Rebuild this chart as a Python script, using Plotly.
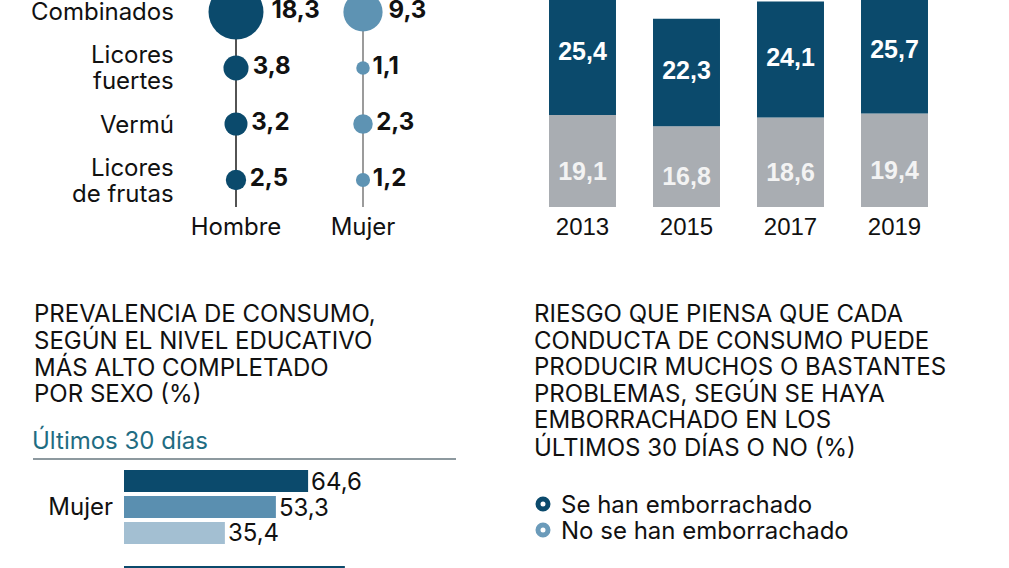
import plotly.graph_objects as go

W, H = 1009, 568


def px_x(p):
    return p / W


def px_y(p):
    return 1 - p / H


def fmt(v):
    return f"{v:.1f}".replace('.', ',')


# ---------------- DATA ----------------
# Bubble chart: consumption by drink type and sex (%)
drink_categories = ['Combinados', 'Licores fuertes', 'Vermú', 'Licores de frutas']
drink_label_lines = [['Combinados'], ['Licores', 'fuertes'], ['Vermú'], ['Licores', 'de frutas']]
sexes = ['Hombre', 'Mujer']
hombre_vals = [18.3, 3.8, 3.2, 2.5]
mujer_vals = [9.3, 1.1, 2.3, 1.2]

# Stacked bars by year
years = ['2013', '2015', '2017', '2019']
gray_vals = [19.1, 16.8, 18.6, 19.4]
dark_vals = [25.4, 22.3, 24.1, 25.7]

# Horizontal bars: prevalence by education level (last 30 days)
edu_sex = ['Mujer', 'Hombre']
edu_level_names = ['Estudios superiores', 'Estudios secundarios', 'Estudios primarios']
edu_level1 = [64.6, 77.5]
edu_level2 = [53.3, None]
edu_level3 = [35.4, None]

# Texts
title_left = ['PREVALENCIA DE CONSUMO,', 'SEGÚN EL NIVEL EDUCATIVO',
              'MÁS ALTO COMPLETADO', 'POR SEXO (%)']
subtitle_left = 'Últimos 30 días'
title_right = ['RIESGO QUE PIENSA QUE CADA', 'CONDUCTA DE CONSUMO PUEDE',
               'PRODUCIR MUCHOS O BASTANTES', 'PROBLEMAS, SEGÚN SE HAYA',
               'EMBORRACHADO EN LOS', 'ÚLTIMOS 30 DÍAS O NO (%)']
legend_names = ['Se han emborrachado', 'No se han emborrachado']

# ---------------- STYLE ----------------
DARK = '#0b4a6c'
MID = '#5e93b3'
LIGHT_RING = '#6b9bba'
GRAY = '#a9adb2'
EDU_COLORS = ['#0b4a6c', '#5a8fb0', '#a3bfd2']
TEAL = '#1f6c82'
TXT = '#111111'
FR = 'Inter'
HV = 'Liberation Sans'

fig = go.Figure()

# Bubble chart
SIZEREF = 2 * max(hombre_vals + mujer_vals) / (55 ** 2)
for sex, vals, col in [('Hombre', hombre_vals, DARK), ('Mujer', mujer_vals, MID)]:
    fig.add_trace(go.Scatter(
        x=[sex] * len(vals), y=drink_categories, mode='markers+text',
        marker=dict(size=vals, sizemode='area', sizeref=SIZEREF, color=col, opacity=1,
                    line=dict(width=0)),
        text=[fmt(v) for v in vals], textposition='middle right',
        textfont=dict(family=FR, size=24, color=TXT, weight='bold'),
        xaxis='x', yaxis='y', hoverinfo='skip'))

# Stacked bars
BW = 0.644
fig.add_trace(go.Bar(x=years, y=gray_vals, marker=dict(color=GRAY, line=dict(width=0)),
                     width=BW, xaxis='x2', yaxis='y2', hoverinfo='skip'))
fig.add_trace(go.Bar(x=years, y=dark_vals, base=gray_vals, marker=dict(color=DARK, line=dict(width=0)),
                     width=BW, xaxis='x2', yaxis='y2', hoverinfo='skip'))
fig.add_trace(go.Scatter(x=years, y=[g / 2 for g in gray_vals], mode='text',
                         text=[fmt(v) for v in gray_vals], textposition='bottom center',
                         textfont=dict(family=HV, size=25, color='#f3f3f3', weight='bold'),
                         xaxis='x2', yaxis='y2', cliponaxis=False, hoverinfo='skip'))
fig.add_trace(go.Scatter(x=years, y=[g + d / 2 for g, d in zip(gray_vals, dark_vals)], mode='text',
                         text=[fmt(v) for v in dark_vals], textposition='middle center',
                         textfont=dict(family=HV, size=25, color='#ffffff', weight='bold'),
                         xaxis='x2', yaxis='y2', cliponaxis=False, hoverinfo='skip'))

# Horizontal bars by education
EW = 0.229
offsets = [-0.385, -0.1146, 0.156]
for name, vals, col, off in zip(edu_level_names, [edu_level1, edu_level2, edu_level3], EDU_COLORS, offsets):
    labels = [fmt(v) if (v is not None and s == 'Mujer') else '' for v, s in zip(vals, edu_sex)]
    fig.add_trace(go.Bar(
        y=edu_sex, x=vals, orientation='h', name=name, width=EW, offset=off,
        marker=dict(color=col, line=dict(width=0)),
        text=labels, textposition='outside',
        constraintext='none', cliponaxis=True,
        textfont=dict(family=FR, size=24, color=TXT),
        xaxis='x3', yaxis='y3', hoverinfo='skip'))

shapes = [
    dict(type='line', xref='x', yref='y domain', x0=0, x1=0, y0=0, y1=1,
         line=dict(color='#1a1a1a', width=1.5), layer='below'),
    dict(type='line', xref='x', yref='y domain', x0=1, x1=1, y0=0, y1=1,
         line=dict(color='#7a7a7a', width=1.5), layer='below'),
    dict(type='line', xref='paper', yref='paper', x0=px_x(33), x1=px_x(456),
         y0=px_y(459), y1=px_y(459), line=dict(color='#1d3540', width=1.2)),
]
for cy, col in [(504, DARK), (530, LIGHT_RING)]:
    shapes.append(dict(type='circle', xref='paper', yref='paper', xsizemode='pixel', ysizemode='pixel',
                       xanchor=px_x(543), yanchor=px_y(cy), x0=-5, x1=5, y0=-5, y1=5,
                       line=dict(color=col, width=5), fillcolor='white'))

annotations = []
for cat, lines in zip(drink_categories, drink_label_lines):
    n = len(lines)
    for k, ln in enumerate(lines):
        shift = (n - 1) / 2 * 26 - k * 26
        annotations.append(dict(text=ln, xref='paper', yref='y', x=px_x(176), y=cat,
                                xanchor='right', yanchor='middle', yshift=shift, showarrow=False,
                                font=dict(family=FR, size=24, color=TXT)))
for i, ln in enumerate(title_left):
    annotations.append(dict(text=ln, xref='paper', yref='paper', x=px_x(32), y=px_y(313.5 + 26.6 * i),
                            xanchor='left', yanchor='middle', showarrow=False,
                            font=dict(family=FR, size=24, color=TXT)))
annotations.append(dict(text=subtitle_left, xref='paper', yref='paper', x=px_x(30), y=px_y(440),
                        xanchor='left', yanchor='middle', showarrow=False,
                        font=dict(family=FR, size=24, color=TEAL)))
for i, ln in enumerate(title_right):
    annotations.append(dict(text=ln, xref='paper', yref='paper', x=px_x(532), y=px_y(313.5 + 26.6 * i),
                            xanchor='left', yanchor='middle', showarrow=False,
                            font=dict(family=FR, size=24, color=TXT)))
for cy, ln in zip([504, 530], legend_names):
    annotations.append(dict(text=ln, xref='paper', yref='paper', x=px_x(559), y=px_y(cy),
                            xanchor='left', yanchor='middle', showarrow=False,
                            font=dict(family=FR, size=24, color=TXT)))

noax = dict(showgrid=False, zeroline=False, showline=False)
fig.update_layout(
    width=W, height=H, autosize=False,
    margin=dict(l=0, r=0, t=0, b=0, pad=0),
    paper_bgcolor='white', plot_bgcolor='white',
    showlegend=False, barmode='overlay', hovermode=False,
    xaxis=dict(domain=[px_x(172.5), px_x(426.5)], type='category', categoryorder='array',
               categoryarray=sexes, range=[-0.5, 1.5], anchor='y',
               tickfont=dict(family=FR, size=24, color=TXT), ticks='', ticklabelstandoff=3, **noax),
    yaxis=dict(domain=[px_y(207), 1], type='category', categoryorder='array',
               categoryarray=drink_categories, range=[3.482, -0.214], anchor='x',
               showticklabels=False, ticks='', **noax),
    xaxis2=dict(domain=[px_x(530.5), px_x(946.5)], type='category', categoryorder='array',
                categoryarray=years, range=[-0.5, 3.5], anchor='y2',
                tickfont=dict(family=HV, size=24, color=TXT), ticks='', ticklabelstandoff=3, **noax),
    yaxis2=dict(domain=[px_y(207), 1], range=[0, 43], anchor='x2',
                showticklabels=False, ticks='', **noax),
    xaxis3=dict(domain=[px_x(124), px_x(456)], range=[0, 116.5], anchor='y3',
                showticklabels=False, ticks='', **noax),
    yaxis3=dict(domain=[0, px_y(459)], type='category', categoryorder='array',
                categoryarray=edu_sex, range=[0.635, -0.5], anchor='x3',
                tickfont=dict(family=FR, size=24, color=TXT), ticks='', ticklabelstandoff=10, **noax),
    shapes=shapes, annotations=annotations,
)

fig.write_html('out.html',
               config={'displayModeBar': False, 'staticPlot': True},
               post_script="document.body.style.margin='0';document.body.style.padding='0';"
                           "document.body.style.overflow='hidden';")
